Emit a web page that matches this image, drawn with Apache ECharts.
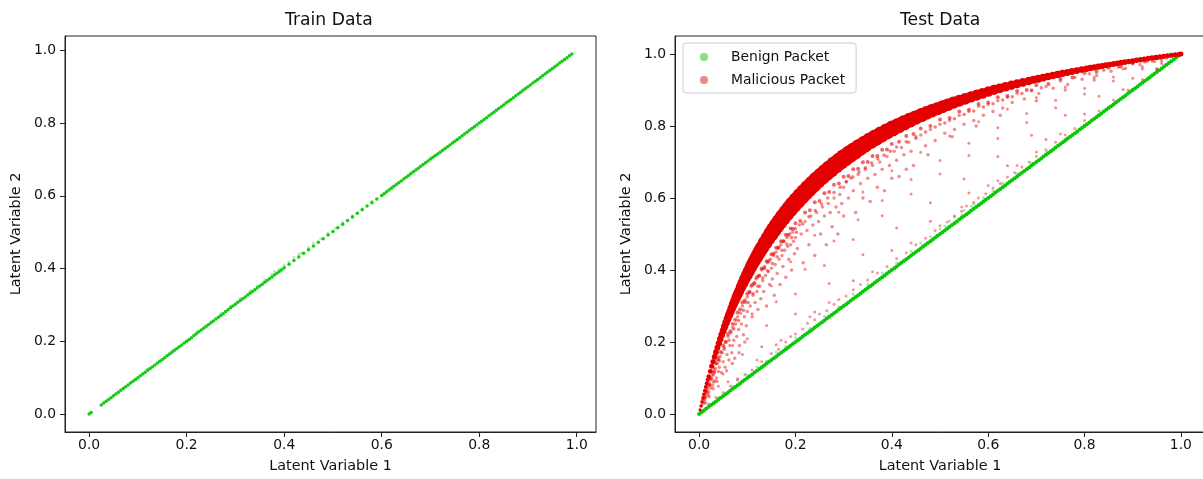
<!DOCTYPE html>
<html><head><meta charset="utf-8">
<script src="https://cdn.jsdelivr.net/npm/echarts@6.0.0/dist/echarts.min.js"></script>
<style>html,body{margin:0;padding:0;background:#fff}#chart{width:1203px;height:479px}</style>
</head><body><div id="chart"></div>
<script>
const tickValues=[0,0.2,0.4,0.6,0.8,1.0];
const tickLabels=['0.0','0.2','0.4','0.6','0.8','1.0'];
const panelTitles=['Train Data','Test Data'];
const xAxisName='Latent Variable 1';
const yAxisName='Latent Variable 2';
const legendNames=['Benign Packet','Malicious Packet'];

// ---- Train: benign latent points (on diagonal) ----
const trainBenign=[[0,0],[0.004,0.004],[0.025,0.025],[0.03,0.03],[0.035,0.035],[0.04,0.04],[0.045,0.045],[0.05,0.05],[0.055,0.055],[0.06,0.06],[0.065,0.065],[0.07,0.07],[0.075,0.075],[0.08,0.08],[0.085,0.085],[0.09,0.09],[0.095,0.095],[0.1,0.1],[0.105,0.105],[0.11,0.11],[0.115,0.115],[0.12,0.12],[0.125,0.125],[0.13,0.13],[0.135,0.135],[0.14,0.14],[0.145,0.145],[0.15,0.15],[0.155,0.155],[0.16,0.16],[0.165,0.165],[0.17,0.17],[0.175,0.175],[0.18,0.18],[0.185,0.185],[0.19,0.19],[0.195,0.195],[0.2,0.2],[0.205,0.205],[0.21,0.21],[0.215,0.216],[0.22,0.221],[0.225,0.226],[0.23,0.231],[0.235,0.236],[0.24,0.241],[0.245,0.246],[0.25,0.251],[0.255,0.256],[0.26,0.261],[0.265,0.266],[0.27,0.271],[0.275,0.276],[0.28,0.282],[0.285,0.287],[0.29,0.292],[0.295,0.297],[0.3,0.302],[0.305,0.307],[0.31,0.312],[0.315,0.317],[0.32,0.322],[0.325,0.327],[0.33,0.332],[0.335,0.337],[0.34,0.342],[0.345,0.347],[0.35,0.352],[0.355,0.357],[0.36,0.362],[0.365,0.367],[0.37,0.372],[0.375,0.377],[0.38,0.382],[0.385,0.387],[0.39,0.392],[0.395,0.397],[0.4,0.402],[0.41,0.412],[0.42,0.422],[0.43,0.432],[0.44,0.442],[0.45,0.452],[0.46,0.462],[0.47,0.472],[0.48,0.482],[0.49,0.492],[0.5,0.502],[0.51,0.512],[0.52,0.522],[0.53,0.532],[0.54,0.542],[0.55,0.552],[0.56,0.562],[0.57,0.572],[0.58,0.581],[0.59,0.591],[0.6,0.601],[0.605,0.606],[0.61,0.611],[0.615,0.616],[0.62,0.621],[0.625,0.626],[0.63,0.631],[0.635,0.636],[0.64,0.641],[0.645,0.646],[0.65,0.651],[0.655,0.656],[0.66,0.661],[0.665,0.666],[0.67,0.671],[0.675,0.676],[0.68,0.681],[0.685,0.686],[0.69,0.691],[0.695,0.696],[0.7,0.701],[0.705,0.706],[0.71,0.711],[0.715,0.715],[0.72,0.72],[0.725,0.725],[0.73,0.73],[0.735,0.735],[0.74,0.74],[0.745,0.745],[0.75,0.75],[0.755,0.755],[0.76,0.76],[0.765,0.765],[0.77,0.77],[0.775,0.775],[0.78,0.78],[0.785,0.785],[0.79,0.79],[0.795,0.795],[0.8,0.8],[0.805,0.805],[0.81,0.81],[0.815,0.815],[0.82,0.82],[0.825,0.825],[0.83,0.83],[0.835,0.835],[0.84,0.84],[0.845,0.845],[0.85,0.85],[0.855,0.855],[0.86,0.86],[0.865,0.865],[0.87,0.87],[0.875,0.875],[0.88,0.88],[0.885,0.885],[0.89,0.89],[0.895,0.895],[0.9,0.9],[0.905,0.905],[0.91,0.91],[0.915,0.915],[0.92,0.92],[0.925,0.925],[0.93,0.93],[0.935,0.935],[0.94,0.94],[0.945,0.945],[0.95,0.95],[0.955,0.955],[0.96,0.96],[0.965,0.965],[0.97,0.97],[0.975,0.975],[0.98,0.98],[0.985,0.985],[0.99,0.99]];
const trainBenignSparse=[[0.12,0.124],[0.17,0.174],[0.22,0.226],[0.25,0.256],[0.27,0.277],[0.29,0.298],[0.31,0.318],[0.33,0.339],[0.345,0.353],[0.36,0.369],[0.375,0.384],[0.38,0.392],[0.39,0.398],[0.4,0.41],[0.41,0.419],[0.42,0.431],[0.43,0.44],[0.435,0.442],[0.45,0.458],[0.46,0.471],[0.475,0.482],[0.49,0.497],[0.505,0.511],[0.52,0.527],[0.54,0.546],[0.56,0.565],[0.58,0.585],[0.62,0.624],[0.66,0.664],[0.7,0.703]];

// ---- Test: benign packets ----
const testBenign=[[0,0],[0.005,0.005],[0.01,0.01],[0.015,0.015],[0.02,0.02],[0.025,0.025],[0.03,0.03],[0.035,0.035],[0.04,0.04],[0.045,0.045],[0.05,0.05],[0.055,0.055],[0.06,0.06],[0.065,0.065],[0.07,0.07],[0.075,0.075],[0.08,0.08],[0.085,0.085],[0.09,0.09],[0.095,0.095],[0.1,0.1],[0.105,0.105],[0.11,0.11],[0.115,0.115],[0.12,0.12],[0.125,0.125],[0.13,0.13],[0.135,0.135],[0.14,0.14],[0.145,0.145],[0.15,0.15],[0.155,0.155],[0.16,0.16],[0.165,0.165],[0.17,0.17],[0.175,0.175],[0.18,0.18],[0.185,0.185],[0.19,0.19],[0.195,0.195],[0.2,0.2],[0.205,0.205],[0.21,0.21],[0.215,0.215],[0.22,0.22],[0.225,0.225],[0.23,0.23],[0.235,0.235],[0.24,0.24],[0.245,0.245],[0.25,0.25],[0.255,0.255],[0.26,0.26],[0.265,0.265],[0.27,0.27],[0.275,0.275],[0.28,0.28],[0.285,0.285],[0.29,0.29],[0.295,0.295],[0.3,0.3],[0.305,0.305],[0.31,0.31],[0.315,0.315],[0.32,0.32],[0.325,0.325],[0.33,0.33],[0.335,0.335],[0.34,0.34],[0.345,0.345],[0.35,0.35],[0.355,0.355],[0.36,0.36],[0.365,0.365],[0.37,0.37],[0.375,0.375],[0.38,0.38],[0.385,0.385],[0.39,0.39],[0.395,0.395],[0.4,0.4],[0.405,0.405],[0.41,0.41],[0.415,0.415],[0.42,0.42],[0.425,0.425],[0.43,0.43],[0.435,0.435],[0.44,0.44],[0.445,0.445],[0.45,0.45],[0.455,0.455],[0.46,0.46],[0.465,0.465],[0.47,0.47],[0.475,0.475],[0.48,0.48],[0.485,0.485],[0.49,0.49],[0.495,0.495],[0.5,0.5],[0.505,0.505],[0.51,0.51],[0.515,0.515],[0.52,0.52],[0.525,0.525],[0.53,0.53],[0.535,0.535],[0.54,0.54],[0.545,0.545],[0.55,0.55],[0.555,0.555],[0.56,0.56],[0.565,0.565],[0.57,0.57],[0.575,0.575],[0.58,0.58],[0.585,0.585],[0.59,0.59],[0.595,0.595],[0.6,0.6],[0.605,0.605],[0.61,0.61],[0.615,0.615],[0.62,0.62],[0.625,0.625],[0.63,0.63],[0.635,0.635],[0.64,0.64],[0.645,0.645],[0.65,0.65],[0.655,0.655],[0.66,0.66],[0.665,0.665],[0.67,0.67],[0.675,0.675],[0.68,0.68],[0.685,0.685],[0.69,0.69],[0.695,0.695],[0.7,0.7],[0.705,0.705],[0.71,0.71],[0.715,0.715],[0.72,0.72],[0.725,0.725],[0.73,0.73],[0.735,0.735],[0.74,0.74],[0.745,0.745],[0.75,0.75],[0.755,0.755],[0.76,0.76],[0.765,0.765],[0.77,0.77],[0.775,0.775],[0.78,0.78],[0.785,0.785],[0.79,0.79],[0.795,0.795],[0.8,0.8],[0.805,0.805],[0.81,0.81],[0.815,0.815],[0.82,0.82],[0.825,0.825],[0.83,0.83],[0.835,0.835],[0.84,0.84],[0.845,0.845],[0.85,0.85],[0.855,0.855],[0.86,0.86],[0.865,0.865],[0.87,0.87],[0.875,0.875],[0.88,0.88],[0.885,0.885],[0.89,0.89],[0.895,0.895],[0.9,0.9],[0.905,0.905],[0.91,0.91],[0.915,0.915],[0.92,0.92],[0.925,0.925],[0.93,0.93],[0.935,0.935],[0.94,0.94],[0.945,0.945],[0.95,0.95],[0.955,0.955],[0.96,0.96],[0.965,0.965],[0.97,0.97],[0.975,0.975],[0.98,0.98],[0.985,0.985],[0.99,0.99],[0.995,0.995],[1,1]];
const testBenignSparse=[[0.04,0.045],[0.07,0.077],[0.1,0.108],[0.12,0.131],[0.14,0.147],[0.16,0.172],[0.18,0.188],[0.2,0.212],[0.23,0.238],[0.26,0.271],[0.29,0.298],[0.32,0.333],[0.35,0.36],[0.38,0.392],[0.41,0.42],[0.44,0.452],[0.46,0.475],[0.48,0.493],[0.5,0.514],[0.51,0.522],[0.52,0.536],[0.53,0.548],[0.545,0.553],[0.55,0.566],[0.565,0.578],[0.57,0.583],[0.59,0.601],[0.61,0.62],[0.63,0.641],[0.66,0.668],[0.69,0.697],[0.72,0.727],[0.76,0.764],[0.8,0.803],[0.85,0.853],[0.9,0.902]];

// ---- Test: malicious packets, dense ridge ----
const malRidge1=[[0.002,0.0113],[0.004,0.0224],[0.006,0.0333],[0.008,0.0441],[0.01,0.0546],[0.012,0.0649],[0.014,0.0751],[0.016,0.085],[0.018,0.0948],[0.02,0.1044],[0.023,0.1186],[0.026,0.1324],[0.029,0.1458],[0.032,0.1589],[0.035,0.1717],[0.038,0.1842]];
const malRidge2=[[0.041,0.1963],[0.044,0.2082],[0.047,0.2199],[0.05,0.2312],[0.053,0.2423],[0.056,0.2532],[0.059,0.2638],[0.062,0.2742],[0.065,0.2843],[0.068,0.2942],[0.071,0.304],[0.074,0.3135],[0.077,0.3228],[0.08,0.332]];
const malRidge3=[[0.083,0.3409],[0.087,0.3526],[0.091,0.3639],[0.095,0.3749],[0.099,0.3857],[0.103,0.3962],[0.107,0.4064],[0.111,0.4164],[0.115,0.4261],[0.119,0.4356],[0.123,0.4449],[0.127,0.4539]];
const malRidge4=[[0.131,0.4628],[0.137,0.4757],[0.143,0.4881],[0.149,0.5001],[0.155,0.5118],[0.161,0.523],[0.167,0.5339],[0.174,0.5462],[0.181,0.5581],[0.188,0.5695],[0.195,0.5806],[0.203,0.5927],[0.211,0.6045],[0.219,0.6157],[0.227,0.6266],[0.236,0.6384],[0.245,0.6497],[0.254,0.6605],[0.263,0.671],[0.272,0.681],[0.282,0.6918],[0.292,0.7021],[0.302,0.712],[0.312,0.7216],[0.322,0.7307],[0.333,0.7405],[0.344,0.7498],[0.355,0.7588],[0.366,0.7674],[0.377,0.7757],[0.389,0.7844],[0.401,0.7928],[0.413,0.8008],[0.425,0.8086],[0.437,0.816],[0.449,0.8232]];
const malRidge5=[[0.461,0.8301],[0.472,0.8363],[0.483,0.8422],[0.494,0.848],[0.505,0.8536],[0.516,0.859],[0.528,0.8647],[0.54,0.8703],[0.552,0.8756]];
const malRidge6=[[0.564,0.8808],[0.576,0.8859],[0.588,0.8908],[0.6,0.8955],[0.612,0.9001],[0.624,0.9046],[0.636,0.909],[0.648,0.9132],[0.66,0.9173],[0.672,0.9213]];
const malRidge7=[[0.684,0.9252],[0.694,0.9284],[0.704,0.9315],[0.714,0.9345],[0.724,0.9375],[0.734,0.9404],[0.744,0.9432],[0.754,0.946],[0.764,0.9487],[0.774,0.9514],[0.784,0.954],[0.794,0.9566]];
const malRidge8=[[0.804,0.9591],[0.812,0.9611],[0.82,0.963],[0.828,0.9649],[0.836,0.9668],[0.844,0.9687],[0.852,0.9705],[0.86,0.9723],[0.868,0.9741],[0.876,0.9758],[0.884,0.9776],[0.892,0.9793],[0.9,0.9809],[0.908,0.9826],[0.916,0.9842],[0.924,0.9858],[0.932,0.9874],[0.94,0.989],[0.948,0.9905],[0.956,0.992],[0.964,0.9935],[0.972,0.995],[0.98,0.9964],[0.988,0.9979],[0.996,0.9993],[1,1]];

// ---- Test: malicious packets hugging the underside of the ridge ----
const malUnderRidgeA=[[0.01,0.046],[0.015,0.062],[0.02,0.08],[0.025,0.1],[0.03,0.118],[0.035,0.14],[0.04,0.152],[0.045,0.172],[0.05,0.19],[0.055,0.2],[0.06,0.222],[0.065,0.23],[0.07,0.25],[0.075,0.262],[0.08,0.282],[0.085,0.29],[0.09,0.31],[0.095,0.315],[0.1,0.334],[0.105,0.338],[0.11,0.358],[0.115,0.362],[0.12,0.38],[0.125,0.384],[0.13,0.404],[0.135,0.405],[0.14,0.424],[0.145,0.425],[0.15,0.444],[0.155,0.445],[0.16,0.462],[0.165,0.463],[0.17,0.48],[0.175,0.48],[0.18,0.498],[0.185,0.497],[0.19,0.515],[0.195,0.514],[0.2,0.53],[0.21,0.536],[0.22,0.56],[0.23,0.566],[0.24,0.588],[0.25,0.592],[0.26,0.613],[0.27,0.617],[0.28,0.637],[0.29,0.64],[0.3,0.659],[0.31,0.661],[0.32,0.68],[0.33,0.681],[0.34,0.699],[0.35,0.7],[0.36,0.717],[0.37,0.717],[0.38,0.734],[0.39,0.735],[0.4,0.75],[0.415,0.756],[0.43,0.772],[0.445,0.778],[0.46,0.793],[0.48,0.8],[0.5,0.818],[0.52,0.822],[0.54,0.84],[0.56,0.845],[0.58,0.861],[0.6,0.865],[0.62,0.88],[0.64,0.883],[0.66,0.897],[0.68,0.9],[0.7,0.913],[0.725,0.917],[0.75,0.931],[0.775,0.935],[0.8,0.947],[0.825,0.951],[0.85,0.962],[0.875,0.965],[0.9,0.976],[0.925,0.979],[0.95,0.988]];
const malUnderRidgeB=[[0.012,0.045],[0.022,0.08],[0.032,0.115],[0.042,0.148],[0.052,0.18],[0.062,0.205],[0.072,0.236],[0.082,0.26],[0.092,0.288],[0.102,0.31],[0.112,0.335],[0.122,0.355],[0.132,0.378],[0.142,0.398],[0.152,0.418],[0.162,0.437],[0.172,0.455],[0.182,0.472],[0.192,0.49],[0.202,0.505],[0.215,0.528],[0.228,0.548],[0.241,0.565],[0.254,0.583],[0.267,0.6],[0.28,0.615],[0.293,0.63],[0.306,0.645],[0.319,0.658],[0.332,0.672],[0.345,0.684],[0.358,0.697],[0.371,0.708],[0.384,0.719],[0.397,0.73],[0.41,0.742],[0.43,0.756],[0.45,0.77],[0.47,0.783],[0.49,0.797],[0.51,0.808],[0.53,0.82],[0.55,0.832],[0.57,0.842],[0.59,0.853],[0.61,0.862],[0.63,0.872],[0.65,0.881],[0.67,0.89],[0.69,0.898],[0.71,0.906]];

// ---- Test: malicious packets, scattered further below the ridge ----
const malSpread=[[0.005,0.022],[0.007,0.038],[0.008,0.03],[0.01,0.045],[0.011,0.035],[0.012,0.042],[0.013,0.03],[0.014,0.058],[0.015,0.065],[0.016,0.05],[0.018,0.07],[0.019,0.055],[0.02,0.062],[0.021,0.048],[0.022,0.085],[0.023,0.1],[0.024,0.072],[0.026,0.095],[0.027,0.11],[0.028,0.08],[0.029,0.07],[0.03,0.108],[0.031,0.128],[0.032,0.092],[0.034,0.125],[0.035,0.15],[0.036,0.1],[0.037,0.09],[0.038,0.14],[0.039,0.158],[0.04,0.118],
[0.042,0.13],[0.044,0.16],[0.046,0.115],[0.048,0.17],[0.05,0.145],[0.052,0.185],[0.054,0.13],[0.056,0.2],[0.057,0.12],[0.058,0.165],[0.06,0.215],[0.062,0.15],[0.064,0.19],[0.066,0.225],[0.068,0.17],[0.069,0.14],[0.07,0.24],[0.072,0.205],[0.074,0.155],[0.076,0.25],[0.078,0.215],[0.08,0.27],[0.082,0.235],[0.083,0.17],[0.084,0.19],[0.086,0.28],[0.088,0.25],[0.09,0.3],[0.092,0.22],[0.094,0.27],[0.095,0.2],[0.096,0.31],[0.098,0.245],[0.1,0.325],[0.1,0.285],
[0.104,0.34],[0.106,0.3],[0.108,0.355],[0.11,0.27],[0.112,0.33],[0.114,0.365],[0.116,0.31],[0.118,0.375],[0.12,0.34],[0.122,0.29],[0.124,0.385],[0.126,0.355],[0.128,0.32],[0.13,0.4],[0.132,0.37],[0.134,0.34],[0.136,0.41],[0.138,0.385],[0.14,0.3],[0.142,0.42],[0.144,0.395],[0.146,0.36],[0.148,0.43],[0.15,0.405],[0.152,0.375],[0.154,0.44],[0.156,0.33],[0.158,0.415],[0.16,0.45],[0.162,0.39],[0.164,0.46],[0.166,0.43],[0.168,0.36],[0.17,0.47],[0.172,0.44],[0.174,0.41],[0.176,0.48],[0.178,0.455],[0.18,0.38],[0.182,0.49],[0.184,0.465],[0.186,0.43],[0.188,0.5],[0.19,0.47],[0.192,0.4],[0.194,0.505],[0.196,0.48],[0.198,0.445],[0.2,0.515],[0.2,0.49],
[0.204,0.46],[0.208,0.525],[0.212,0.5],[0.216,0.42],[0.22,0.535],[0.224,0.51],[0.228,0.47],[0.232,0.55],[0.236,0.525],[0.24,0.44],[0.244,0.56],[0.248,0.535],[0.252,0.5],[0.256,0.575],[0.26,0.55],[0.264,0.47],[0.268,0.585],[0.272,0.56],[0.276,0.52],[0.28,0.6],[0.284,0.575],[0.288,0.5],[0.292,0.61],[0.296,0.585],[0.3,0.55],[0.3,0.63],
[0.305,0.645],[0.31,0.6],[0.315,0.655],[0.32,0.62],[0.325,0.56],[0.33,0.665],[0.335,0.64],[0.34,0.6],[0.345,0.68],[0.35,0.655],[0.355,0.59],[0.36,0.69],[0.365,0.665],[0.37,0.63],[0.375,0.7],[0.38,0.68],[0.385,0.62],[0.39,0.715],[0.395,0.69],[0.4,0.655],[0.405,0.73],[0.41,0.705],[0.415,0.66],[0.42,0.74],[0.425,0.72],[0.43,0.68],[0.435,0.755],[0.44,0.73],[0.445,0.69],[0.45,0.765],
[0.46,0.775],[0.47,0.745],[0.475,0.72],[0.48,0.79],[0.49,0.76],[0.5,0.805],[0.51,0.78],[0.52,0.815],[0.525,0.77],[0.53,0.79],[0.54,0.83],[0.55,0.805],[0.56,0.84],[0.57,0.815],[0.575,0.8],[0.58,0.855],[0.59,0.83],[0.6,0.86],[0.61,0.84],[0.62,0.87],[0.625,0.83],[0.63,0.85],[0.64,0.88],[0.65,0.865],
[0.66,0.89],[0.675,0.875],[0.69,0.9],[0.7,0.87],[0.705,0.89],[0.72,0.91],[0.735,0.905],[0.75,0.925],[0.76,0.9],[0.765,0.915],[0.78,0.935],[0.795,0.93],[0.81,0.945],[0.82,0.928],[0.825,0.94],[0.84,0.955],[0.855,0.952],[0.87,0.963],[0.885,0.96],[0.9,0.972],[0.915,0.97],[0.93,0.98],[0.945,0.979],[0.96,0.987]];

// ---- Test: malicious packets, dotted trails between ridge and diagonal ----
const malTrailA=[[0.03,0.0881],[0.07,0.1904],[0.11,0.2786],[0.15,0.3555],[0.19,0.423],[0.24,0.4967],[0.29,0.5607],[0.34,0.6168],[0.4,0.6757],[0.46,0.7269],[0.52,0.772],[0.58,0.8119],[0.64,0.8475],[0.7,0.8794],[0.76,0.9082],[0.82,0.9344],[0.88,0.9582],[0.94,0.98]];
const malTrailB=[[0.05,0.1114],[0.1,0.2092],[0.16,0.312],[0.22,0.4018],[0.28,0.4808],[0.33,0.5397],[0.38,0.5934],[0.44,0.6517],[0.5,0.7042],[0.56,0.7519],[0.62,0.7953],[0.68,0.835],[0.74,0.8714],[0.8,0.905],[0.86,0.936],[0.92,0.9648],[0.97,0.9872]];
const malTrailC=[[0.04,0.0769],[0.09,0.1651],[0.14,0.2456],[0.2,0.3333],[0.26,0.4127],[0.32,0.4848],[0.38,0.5507],[0.44,0.6111],[0.5,0.6667],[0.56,0.7179],[0.62,0.7654],[0.68,0.8095],[0.74,0.8506],[0.8,0.8889],[0.86,0.9247],[0.92,0.9583],[0.96,0.9796]];
const malTrailD=[[0.06,0.0894],[0.13,0.1869],[0.2,0.2778],[0.27,0.3627],[0.34,0.4421],[0.41,0.5167],[0.48,0.5868],[0.55,0.6528],[0.62,0.7151],[0.69,0.774],[0.76,0.8297],[0.83,0.8825],[0.9,0.9326],[0.96,0.9736]];
const malTrailE=[[0.08,0.098],[0.16,0.1923],[0.24,0.283],[0.32,0.3704],[0.4,0.4545],[0.48,0.5357],[0.56,0.614],[0.64,0.6897],[0.72,0.7627],[0.8,0.8333],[0.88,0.9016],[0.95,0.9596]];
const malNearDiag=[[0.02,0.028],[0.035,0.046],[0.05,0.06],[0.065,0.078],[0.08,0.094],[0.095,0.11],[0.11,0.122],[0.12,0.15],[0.13,0.146],[0.15,0.168],[0.165,0.18],[0.17,0.205],[0.18,0.2],[0.19,0.215],[0.2,0.222],[0.215,0.236],[0.225,0.252],[0.23,0.27],[0.24,0.262],[0.25,0.278],[0.265,0.287],[0.27,0.31],[0.28,0.305],[0.29,0.318],[0.305,0.328],[0.32,0.345],[0.335,0.36],[0.35,0.372],[0.36,0.395],[0.37,0.392],[0.39,0.41],[0.41,0.432],[0.43,0.448],[0.44,0.475],[0.45,0.47],[0.47,0.488],[0.49,0.51],[0.5,0.523],[0.515,0.533],[0.53,0.55],[0.545,0.563],[0.545,0.575],[0.555,0.578],[0.57,0.588],[0.58,0.6],[0.595,0.612],[0.6,0.635],[0.61,0.628],[0.62,0.648],[0.625,0.64],[0.64,0.658],[0.655,0.67],[0.66,0.69],[0.67,0.686],[0.685,0.7],[0.7,0.716],[0.7,0.728],[0.72,0.734],[0.74,0.755],[0.75,0.778],[0.76,0.775],[0.78,0.793],[0.8,0.815],[0.83,0.842],[0.86,0.872],[0.89,0.9],[0.92,0.929],[0.95,0.957]];

// ---- styling (not data) ----
const FONT='DejaVu Sans';
const TXT='#111111';
const GREEN='rgb(8,200,8)';
const RED='rgb(228,0,0)';
// marker diameter used for the dense ridge, by position along Latent Variable 1
const ridgeSizeStops=[[0,3],[0.02,4.5],[0.05,7],[0.1,12],[0.15,15.5],[0.2,17.5],[0.3,18],[0.4,16],[0.5,13],[0.6,10.5],[0.7,8],[0.8,6.5],[0.9,5.5],[1,5]];
function ridgeSize(val){
  const x=val[0];
  for(let i=1;i<ridgeSizeStops.length;i++){
    const a=ridgeSizeStops[i-1],b=ridgeSizeStops[i];
    if(x<=b[0]){const t=(x-a[0])/(b[0]-a[0]);return a[1]+t*(b[1]-a[1]);}
  }
  return ridgeSizeStops[ridgeSizeStops.length-1][1];
}

const chart=echarts.init(document.getElementById('chart'),null,{renderer:'canvas'});
function fmtTick(v){const i=tickValues.findIndex(t=>Math.abs(t-v)<1e-9);return i>=0?tickLabels[i]:'';}
function makeAxis(kind,gi,min,max){
  const isX=kind==='x';
  return {gridIndex:gi,type:'value',min:min,max:max,
    splitLine:{show:false},
    axisLine:{show:true,onZero:false,lineStyle:{color:'#222',width:1}},
    axisTick:{show:true,inside:false,length:5,customValues:tickValues,lineStyle:{color:'#222',width:1}},
    axisLabel:{show:true,customValues:tickValues,formatter:fmtTick,margin:isX?6:9,color:TXT,fontFamily:FONT,fontSize:13.9},
    name:isX?xAxisName:yAxisName,nameLocation:'middle',nameGap:isX?27:42,nameMoveOverlap:false,
    nameTextStyle:{color:TXT,fontFamily:FONT,fontSize:14.4}};
}
function sc(name,data,gi,color,size,opacity){
  return {type:'scatter',name:name,data:data,xAxisIndex:gi,yAxisIndex:gi,symbol:'circle',symbolSize:size,
    itemStyle:{color:color,opacity:opacity},silent:true,animation:false,clip:true,emphasis:{disabled:true}};
}
const ridgeArrays=[malRidge1,malRidge2,malRidge3,malRidge4,malRidge5,malRidge6,malRidge7,malRidge8];
const option={
  backgroundColor:'#ffffff',
  animation:false,
  title:[
    {text:panelTitles[0],left:280,top:7,textStyle:{fontFamily:FONT,fontSize:17.2,fontWeight:'normal',color:TXT}},
    {text:panelTitles[1],left:895,top:7,textStyle:{fontFamily:FONT,fontSize:17.2,fontWeight:'normal',color:TXT}}
  ],
  grid:[
    {left:65,top:36,width:531,height:396,show:true,borderColor:'#222',borderWidth:1,backgroundColor:'transparent',outerBoundsMode:'none',containLabel:false},
    {left:675,top:36,width:530,height:396,show:true,borderColor:'#222',borderWidth:1,backgroundColor:'transparent',outerBoundsMode:'none',containLabel:false}
  ],
  xAxis:[makeAxis('x',0,-0.0495,1.0395),makeAxis('x',1,-0.05,1.05)],
  yAxis:[makeAxis('y',0,-0.0495,1.0395),makeAxis('y',1,-0.05,1.05)],
  legend:{show:true,orient:'vertical',left:683,top:43,padding:[7,11,6,17],itemGap:9,itemWidth:8,itemHeight:8,icon:'circle',
    selectedMode:false,backgroundColor:'rgba(255,255,255,0.8)',borderColor:'#cccccc',borderWidth:1,borderRadius:3,
    textStyle:{fontFamily:FONT,fontSize:13.9,color:TXT,padding:[0,0,0,18]},
    data:[{name:legendNames[0],itemStyle:{color:'#84e184',opacity:1}},{name:legendNames[1],itemStyle:{color:'#f08585',opacity:1}}]},
  series:[
    sc('Train Benign',trainBenign,0,GREEN,3.5,0.95),
    sc('Train Benign',trainBenignSparse,0,GREEN,3,0.3),
    sc(legendNames[0],testBenign,1,GREEN,4,1),
    sc(legendNames[0],testBenignSparse,1,GREEN,3,0.35),
    sc(legendNames[1],malNearDiag,1,RED,3,0.4),
    sc(legendNames[1],malTrailA,1,RED,3,0.45),
    sc(legendNames[1],malTrailB,1,RED,3,0.45),
    sc(legendNames[1],malTrailC,1,RED,3,0.45),
    sc(legendNames[1],malTrailD,1,RED,3,0.45),
    sc(legendNames[1],malTrailE,1,RED,3,0.45),
    sc(legendNames[1],malSpread,1,RED,3.5,0.45),
    sc(legendNames[1],malUnderRidgeB,1,RED,3.5,0.5),
    sc(legendNames[1],malUnderRidgeA,1,RED,4,0.6)
  ].concat(ridgeArrays.map(arr=>sc(legendNames[1],arr,1,RED,ridgeSize,1)))
};
chart.setOption(option);
</script></body></html>
